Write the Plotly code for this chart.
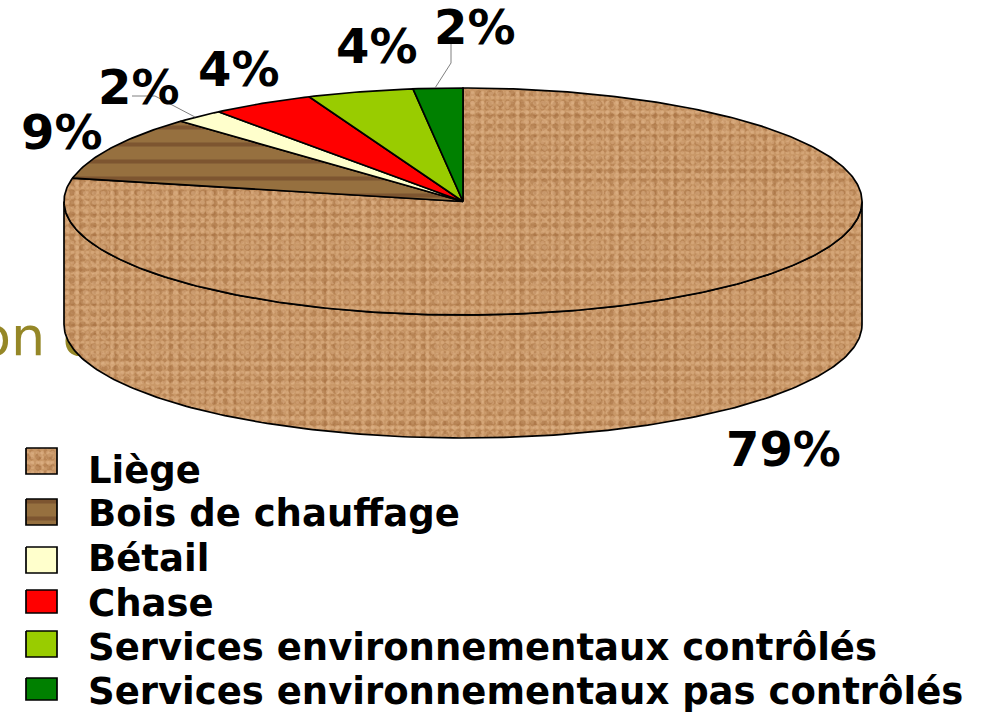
import numpy as np
import plotly.graph_objects as go

categories = ["Liège", "Bois de chauffage", "Bétail", "Chase",
              "Services environnementaux contrôlés", "Services environnementaux pas contrôlés"]
# Slice sizes as measured on the picture (the printed labels are rounded)
values = [78.3, 9.2, 2.0, 4.2, 4.3, 2.0]
labels = ["79%", "9%", "2%", "4%", "4%", "2%"]
colors = ["#C99868", "#96703F", "#FFFFCC", "#FF0000", "#99CC00", "#008000"]

CX, CY, RX, RY, DEPTH = 463, 201.5, 399, 113.5, 123
label_x = [783, 62, 139, 239, 377, 475]
label_y = [449, 132, 87, 69, 46, 27]
swatch_x = [26, 57]
swatch_y = [(448, 474), (499, 525), (547, 573), (590, 613), (631, 657), (678, 700)]
legend_text_x = 86
legend_text_y = [470, 513, 558, 603, 647, 691]
leaders = [([451, 451, 435], [43, 63, 88]), ([132, 155, 195], [96, 96, 117])]

BLACK = "#000000"
fig = go.Figure()


def ell(theta, dy=0.0):
    return CX + RX * np.sin(theta), CY - RY * np.cos(theta) + dy


def cork(xs, ys):
    """Layered fine dot patterns of unrelated sizes that imitate the mottled cork."""
    fig.add_trace(go.Scatter(x=xs, y=ys, mode="lines", fill="toself", fillcolor=colors[0],
                             line=dict(width=0), hoverinfo="skip", showlegend=False))
    layers = [(".", "#9C6434", 7, 0.30, 0.35), (".", "#E3B98E", 5, 0.36, 0.40),
              (".", "#9C6434", 11, 0.26, 0.40), (".", "#E3B98E", 9, 0.24, 0.40)]
    for shape, fg, size, solid, op in layers:
        fig.add_trace(go.Scatter(x=xs, y=ys, mode="lines", fill="toself",
                                 fillcolor="rgba(0,0,0,0)",
                                 fillpattern=dict(shape=shape, fgcolor=fg, size=size, solidity=solid,
                                                  bgcolor="rgba(0,0,0,0)", fgopacity=op),
                                 line=dict(width=0), hoverinfo="skip", showlegend=False))
    fig.add_trace(go.Scatter(x=xs, y=ys, mode="lines", line=dict(color=BLACK, width=1.7),
                             hoverinfo="skip", showlegend=False))


def wood(xs, ys):
    fig.add_trace(go.Scatter(x=xs, y=ys, mode="lines", fill="toself", fillcolor=colors[1],
                             fillpattern=dict(shape="-", fgcolor="#643A22", size=17, solidity=0.24,
                                              bgcolor=colors[1]),
                             line=dict(color=BLACK, width=1.7),
                             hoverinfo="skip", showlegend=False))


# Text partly hidden behind the pie
fig.add_trace(go.Scatter(x=[-22], y=[341], mode="text", text=["on c"], textposition="middle right",
                         textfont=dict(family="DejaVu Sans", size=54, color="#958727"),
                         hoverinfo="skip", showlegend=False))

# Side wall
t = np.linspace(np.pi / 2, 3 * np.pi / 2, 200)
top_x, top_y = ell(t)
bot_x, bot_y = ell(t[::-1], DEPTH)
cork(np.r_[top_x, bot_x, top_x[0]], np.r_[top_y, bot_y, top_y[0]])

# Top slices from the values
fractions = np.cumsum([0] + values) / sum(values) * 2 * np.pi
for i in range(len(values)):
    t = np.linspace(fractions[i], fractions[i + 1], max(int(values[i] * 5), 8))
    ax, ay = ell(t)
    xs, ys = np.r_[CX, ax, CX], np.r_[CY, ay, CY]
    if i == 0:
        cork(xs, ys)
    elif i == 1:
        wood(xs, ys)
    else:
        fig.add_trace(go.Scatter(x=xs, y=ys, mode="lines", fill="toself", fillcolor=colors[i],
                                 line=dict(color=BLACK, width=1.7), name=categories[i],
                                 hoverinfo="skip", showlegend=False))

# Leader lines
for lx, ly in leaders:
    fig.add_trace(go.Scatter(x=lx, y=ly, mode="lines", line=dict(color="#808080", width=1),
                             hoverinfo="skip", showlegend=False))

annotations = []
for x, y, s in zip(label_x, label_y, labels):
    annotations.append(dict(x=x, y=y, text=f"<b>{s}</b>", showarrow=False, xanchor="center",
                            yanchor="middle", font=dict(family="DejaVu Sans", size=48, color=BLACK)))

# Legend
for i, (cat, (y0, y1)) in enumerate(zip(categories, swatch_y)):
    xs = [swatch_x[0], swatch_x[1], swatch_x[1], swatch_x[0], swatch_x[0]]
    ys = [y0, y0, y1, y1, y0]
    if i == 0:
        cork(xs, ys)
    elif i == 1:
        wood(xs, ys)
    else:
        fig.add_trace(go.Scatter(x=xs, y=ys, mode="lines", fill="toself", fillcolor=colors[i],
                                 line=dict(color=BLACK, width=1.7), hoverinfo="skip", showlegend=False))
    annotations.append(dict(x=legend_text_x, y=legend_text_y[i], text=f"<b>{cat}</b>", showarrow=False,
                            xanchor="left", yanchor="middle",
                            font=dict(family="DejaVu Sans", size=37, color=BLACK)))

fig.update_layout(width=985, height=712, margin=dict(l=0, r=0, t=0, b=0),
                  paper_bgcolor="white", plot_bgcolor="white", showlegend=False,
                  annotations=annotations,
                  xaxis=dict(range=[0, 985], visible=False, fixedrange=True),
                  yaxis=dict(range=[712, 0], visible=False, fixedrange=True))

fig.write_html("out.html", config={"displayModeBar": False},
               post_script="document.body.style.margin='0';document.body.style.overflow='hidden';")
